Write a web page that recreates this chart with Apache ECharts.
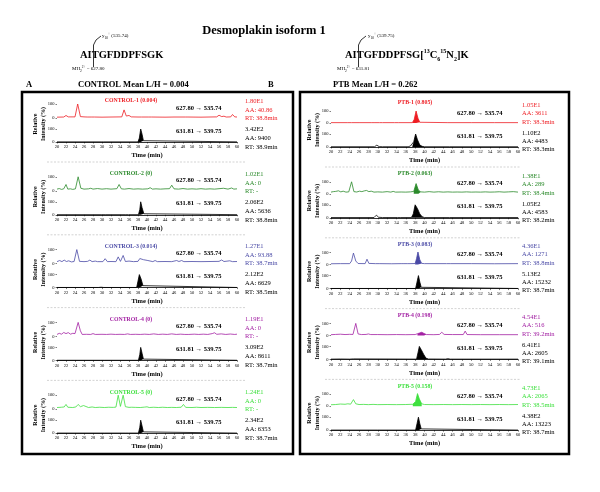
<!DOCTYPE html>
<html><head><meta charset="utf-8">
<script src="https://cdn.jsdelivr.net/npm/echarts@6/dist/echarts.min.js"></script>
<style>html,body{margin:0;padding:0;background:#fff}#c{width:600px;height:492px}</style>
</head><body><div id="c"></div><script>
// ---------------- DATA ----------------
const xTicks = [20, 60, 2];           // time axis: min, max, step (min)
const yTicks = [0, 100];              // relative intensity ticks (%)
const ctrlNames = ['CONTROL-1 (0.004)','CONTROL-2 (0)','CONTROL-3 (0.014)','CONTROL-4 (0)','CONTROL-5 (0)'];
const ptbNames  = ['PTB-1 (0.805)','PTB-2 (0.063)','PTB-3 (0.083)','PTB-4 (0.198)','PTB-5 (0.158)'];
const lightTransition = '627.80 \u2192 535.74';
const heavyTransition = '631.81 \u2192 539.75';
const ctrlLightInfo = [['1.80E1','AA: 40.86','RT: 38.8min'],['1.02E1','AA: 0','RT: -'],['1.27E1','AA: 93.88','RT: 38.7min'],['1.19E1','AA: 0','RT: -'],['1.24E1','AA: 0','RT: -']];
const ctrlHeavyInfo = [['3.42E2','AA: 9400','RT: 38.9min'],['2.06E2','AA: 5636','RT: 38.8min'],['2.12E2','AA: 6629','RT: 38.5min'],['3.09E2','AA: 8611','RT: 38.7min'],['2.34E2','AA: 6353','RT: 38.7min']];
const ptbLightInfo  = [['1.05E1','AA: 3611','RT: 38.3min'],['1.38E1','AA: 289','RT: 38.4min'],['4.36E1','AA: 1271','RT: 38.8min'],['4.54E1','AA: 516','RT: 39.2min'],['4.73E1','AA: 2065','RT: 38.5min']];
const ptbHeavyInfo  = [['1.10E2','AA: 4483','RT: 38.3min'],['1.05E2','AA: 4583','RT: 38.2min'],['5.13E2','AA: 15232','RT: 38.7min'],['6.41E1','AA: 2605','RT: 39.1min'],['4.38E2','AA: 13223','RT: 38.7min']];

// chromatogram traces: [time (min), relative intensity (%)]
const ctrl1Light = [[20,6],[21.5,7],[22,18],[22.5,8],[24,8],[24.6,100],[25.2,10],[26,8],[26.3,14],[26.7,7],[27.6,7],[27.9,16],[28.3,7],[30,6],[32,7],[34.4,8],[34.9,58],[35.4,14],[36,18],[36.5,8],[38,7],[38.4,15],[38.8,7],[40.4,7],[40.7,11],[41,7],[44,6],[46,7],[48.5,7],[48.8,11],[49.1,7],[52,6],[55.5,8],[56,20],[56.6,10],[57.1,13],[57.6,7],[58.6,8],[59,25],[59.5,8],[60,7]];
const ctrl1Heavy = [[20,1],[29.8,1],[30.1,4],[30.4,1],[38,1],[38.3,30],[38.6,100],[38.9,60],[39.2,10],[39.5,1],[60,1]];
const ctrl2Light = [[20,12],[20.5,16],[21,10],[21.5,14],[22,45],[22.4,12],[23,14],[23.5,10],[24.1,14],[24.7,100],[25.3,18],[26,12],[27,14],[27.5,18],[28,12],[29,16],[30,12],[31,15],[32,12],[33.3,15],[33.8,45],[34.3,14],[35,12],[36,16],[37,12],[38,14],[39,12],[40.2,14],[40.7,22],[41.2,12],[42,14],[43,12],[44,14],[45,15],[45.5,40],[46,14],[47,12],[48,16],[49,12],[50,14],[51,12],[52,15],[53,12],[54,14],[55,12],[56,15],[57,18],[58,12],[58.8,20],[59.3,12],[60,14]];
const ctrl2Heavy = [[20,1],[29.8,1],[30.2,8],[30.7,1],[35.3,1],[35.6,4],[35.9,1],[38.1,1],[38.4,40],[38.6,100],[38.9,55],[39.3,8],[39.6,1],[60,1]];
const ctrl3Light = [[20,14],[20.6,22],[21.1,14],[21.6,25],[22.1,15],[22.6,20],[23.2,12],[23.8,15],[24.4,100],[25,16],[26,14],[26.8,16],[27.3,25],[27.8,14],[28.5,18],[29,14],[30.2,14],[30.7,35],[31.2,14],[32,15],[33.1,14],[33.6,48],[34.1,16],[34.7,58],[35.2,15],[36,18],[37,14],[38,16],[38.4,36],[38.8,22],[39.2,28],[39.6,20],[40.2,22],[40.6,14],[41.3,14],[41.8,22],[42.3,14],[44,15],[45.5,14],[46.6,22],[47.1,15],[47.7,22],[48.2,14],[50,15],[52,14],[54,15],[56,16],[56.6,26],[57.1,15],[58.4,20],[59,14],[60,15]];
const ctrl3Heavy = [[20,1],[29.2,1],[29.5,5],[29.8,3],[30.1,5],[30.4,1],[37.7,1],[38,50],[38.3,100],[38.7,65],[39.1,15],[39.5,2],[60,1]];
const ctrl4Light = [[20,14],[20.5,22],[21,16],[21.5,28],[22,20],[22.5,27],[23,16],[23.5,22],[24,20],[24.7,100],[25.2,40],[25.6,14],[26.5,15],[27.5,14],[28,20],[28.5,14],[30,15],[31,14],[32,16],[33,14],[34,15],[35,14],[35.7,18],[36.3,14],[37.5,15],[38.5,14],[39.5,16],[40.5,14],[41.5,18],[42.5,14],[43.5,16],[44.5,14],[45.5,18],[46.5,14],[47.5,16],[48.4,14],[48.8,24],[49.3,14],[50.5,16],[51.5,14],[52.5,16],[53.5,14],[54.5,20],[55,26],[55.5,15],[56.5,18],[57.5,14],[58.5,17],[59.5,14],[60,16]];
const ctrl4Heavy = [[20,1],[29.6,1],[30,6],[30.5,1],[38.1,1],[38.4,45],[38.6,100],[38.9,55],[39.2,10],[39.5,1],[60,1]];
const ctrl5Light = [[20,12],[21,14],[21.6,16],[22,34],[22.4,14],[23.5,12],[24.2,16],[24.7,34],[25.2,18],[25.9,26],[26.3,13],[27,12],[27.8,16],[28.5,12],[29.5,14],[30.5,12],[31.5,14],[32.5,13],[33.1,15],[33.6,100],[34.1,20],[34.7,100],[35.2,18],[36,13],[36.6,14],[37,26],[37.4,13],[38.5,12],[39.5,15],[40,17],[40.5,12],[41.5,14],[42.5,12],[43.5,14],[44.5,12],[45.5,13],[46.5,12],[47.6,14],[48.1,34],[48.6,13],[50,12],[51,14],[52,12],[53.5,13],[55,12],[56.5,13],[58,12],[59,13],[60,12]];
const ctrl5Heavy = [[20,1],[29.6,1],[30,8],[30.5,1],[35.3,1],[35.6,3],[35.9,1],[38.1,1],[38.4,45],[38.6,100],[38.9,55],[39.2,10],[39.5,1],[60,1]];

const ptb1Light = [[20,3],[23.6,3],[24,15],[24.4,3],[26,3],[28.6,3],[29,6],[29.4,3],[30.4,3],[30.7,8],[31,3],[33.6,3],[34,13],[34.4,3],[37.4,3],[37.8,30],[38.2,100],[38.6,40],[39,6],[39.4,3],[45,3],[50,3],[55,3],[60,3]];
const ptb1Heavy = [[20,2],[29.3,2],[29.8,14],[30.3,3],[31,2],[36.5,2],[37,8],[37.4,5],[37.7,40],[38.1,100],[38.5,55],[39,15],[39.5,5],[40,2],[44.6,2],[45,4],[45.4,2],[60,2]];
const ptb2Light = [[20,14],[20.5,18],[21,20],[21.6,25],[22.1,16],[22.6,22],[23.2,14],[23.8,16],[24.4,100],[24.9,18],[25.5,15],[26.1,22],[26.6,18],[27.1,24],[27.6,28],[28.1,18],[28.6,22],[29.2,14],[30,16],[31,14],[32,18],[32.8,14],[33.3,20],[33.8,14],[35,15],[36,14],[37,16],[37.7,20],[38.2,85],[38.7,30],[39.2,16],[40,14],[41,18],[42,14],[43,17],[44,14],[45,16],[46,14],[47,15],[48,14],[49,16],[50,14],[51,15],[52,14],[53,16],[54,14],[55,15],[56,17],[57,14],[58,16],[59,18],[60,14]];
const ptb2Heavy = [[20,2],[29.2,2],[29.7,20],[30.2,4],[31,2],[34.2,2],[34.5,6],[34.8,2],[37.2,2],[37.6,30],[38,100],[38.5,70],[39,30],[39.5,8],[40,2],[44.6,2],[45,4],[45.4,2],[60,2]];
const ptb3Light = [[20,7],[22,8],[24,8],[24.4,30],[24.8,96],[25.3,30],[25.8,9],[27.3,8],[27.7,45],[28.1,10],[29.5,8],[29.9,12],[30.3,8],[33,7],[35,8],[35.3,12],[35.6,8],[36.3,8],[36.6,14],[36.9,8],[38,9],[38.3,50],[38.6,105],[39,40],[39.4,10],[40,8],[44.7,8],[45.1,12],[45.5,8],[50,8],[55,7],[60,8]];
const ptb3Heavy = [[20,1],[30,1],[36,1],[38.1,1],[38.4,50],[38.7,100],[39,50],[39.3,10],[39.7,1],[60,1]];
const ptb4Light = [[20,6],[21,8],[22,10],[23,7],[24,9],[24.7,8],[25.3,100],[25.8,12],[26.5,7],[27.5,8],[28,12],[28.5,7],[30,7],[32,6],[34,7],[36,6],[38,7],[38.5,14],[38.9,24],[39.4,26],[39.9,16],[40.4,7],[42,6],[43.2,8],[43.7,26],[44.2,8],[46,7],[48.3,7],[48.7,36],[49.1,7],[52,6],[56,6],[60,6]];
const ptb4Heavy = [[20,2],[22,3],[24,2],[24.8,4],[25.2,2],[38.3,2],[38.6,50],[38.9,100],[39.3,75],[39.8,40],[40.3,10],[40.8,3],[44.5,2],[45,6],[45.5,2],[60,2]];
const ptb5Light = [[20,12],[21,14],[22,18],[23,16],[23.6,20],[24.2,17],[24.8,55],[25.3,20],[26,14],[27,15],[28,13],[29,15],[30,13],[32,14],[34,13],[36,14],[37.5,16],[38.1,40],[38.5,105],[38.9,60],[39.4,20],[40,14],[42,13],[44,14],[46,13],[48,14],[50,13],[52,14],[54,13],[56,14],[58,13],[60,14]];
const ptb5Heavy = [[20,1],[30,1],[38.1,1],[38.4,50],[38.7,100],[39,50],[39.3,10],[39.6,1],[60,1]];

// integrated (shaded) peak windows, minutes
const ctrlLightWin = [null, null, null, null, null];
const ctrlHeavyWin = [[38,39.5],[38.1,39.6],[37.7,39.5],[38.1,39.5],[38.1,39.5]];
const ptbLightWin  = [[37.4,39.4],[37.7,39.2],[38,39.4],[38.5,40.4],[37.5,39.4]];
const ptbHeavyWin  = [[37.4,40],[37.2,40],[38.1,39.7],[38.3,40.8],[38.1,39.6]];

// ---------------- BUILD ----------------
const FONT = '"Liberation Serif","Times New Roman",serif';
const colors = ['#ee1d23','#2b8a2b','#4a4aa6','#a321a3','#3fe03f'];
const ctrlLight = [ctrl1Light,ctrl2Light,ctrl3Light,ctrl4Light,ctrl5Light];
const ctrlHeavy = [ctrl1Heavy,ctrl2Heavy,ctrl3Heavy,ctrl4Heavy,ctrl5Heavy];
const ptbLight = [ptb1Light,ptb2Light,ptb3Light,ptb4Light,ptb5Light];
const ptbHeavy = [ptb1Heavy,ptb2Heavy,ptb3Heavy,ptb4Heavy,ptb5Heavy];

const sides = [
  {light:ctrlLight, heavy:ctrlHeavy, lw:ctrlLightWin, hw:ctrlHeavyWin, names:ctrlNames, li:ctrlLightInfo, hi:ctrlHeavyInfo,
   x0:57, w:180, lt:104, lh:14, ht:129, hh:13, pitch:72.8, titleX:131, titleY:101, trX:176, tr1Y:108, tr2Y:131,
   infoX:245, infoL:[101,110,118], infoH:[129,138,147], ylabX:39, ylabY:124, sepY:162, sepX:[47,245]},
  {light:ptbLight, heavy:ptbHeavy, lw:ptbLightWin, hw:ptbHeavyWin, names:ptbNames, li:ptbLightInfo, hi:ptbHeavyInfo,
   x0:331, w:187, lt:111, lh:12, ht:134, hh:13, pitch:70.8, titleX:415, titleY:103, trX:457, tr1Y:113, tr2Y:136,
   infoX:522, infoL:[105,113,122], infoH:[133,141,149], ylabX:313, ylabY:130, sepY:167, sepX:[325,520]}
];

const grids=[], xAxes=[], yAxes=[], series=[], graphics=[];
function addGrid(left, top, width, height, isHeavy) {
  const g = grids.length;
  grids.push({left, top, width, height});
  xAxes.push({type:'value', gridIndex:g, min:xTicks[0], max:xTicks[1], interval:xTicks[2],
    axisLine:{show:isHeavy, lineStyle:{color:'#000', width:0.8}},
    axisTick:{show:isHeavy, length:1.5, lineStyle:{color:'#000', width:0.5}},
    axisLabel:{show:isHeavy, fontSize:4.5, margin:2.5, color:'#000', fontFamily:FONT},
    splitLine:{show:false},
    name:isHeavy?'Time (min)':'', nameLocation:'middle', nameGap:10,
    nameTextStyle:{fontSize:6.5, fontWeight:'bold', color:'#000', fontFamily:FONT}});
  yAxes.push({type:'value', gridIndex:g, min:yTicks[0], max:yTicks[1], interval:yTicks[1]-yTicks[0],
    axisLine:{show:false}, axisTick:{show:true, length:1.5, lineStyle:{color:'#000', width:0.5}},
    axisLabel:{fontSize:4.5, margin:2.5, color:'#000', fontFamily:FONT}, splitLine:{show:false}});
  return g;
}
function addTrace(g, data, color, win) {
  series.push({type:'line', xAxisIndex:g, yAxisIndex:g, data, symbol:'none', clip:false, silent:true,
    lineStyle:{color, width:0.8}, z:3});
  if (win) series.push({type:'line', xAxisIndex:g, yAxisIndex:g, symbol:'none', clip:false, silent:true,
    data:data.filter(p => p[0] >= win[0] && p[0] <= win[1]),
    lineStyle:{width:0}, areaStyle:{color, opacity:1}, z:2});
}
function txt(x, y, text, size, color, opts) {
  graphics.push(Object.assign({type:'text', x, y, silent:true, style:Object.assign({text, fill:color,
    font:(opts&&opts.bold?'bold ':'') + size + 'px ' + FONT, textAlign:'left', textVerticalAlign:'middle'}, (opts&&opts.style)||{})},
    (opts&&opts.el)||{}));
}

sides.forEach((s) => {
  for (let i = 0; i < 5; i++) {
    const dy = s.pitch * i;
    const gl = addGrid(s.x0, s.lt + dy, s.w, s.lh, false);
    addTrace(gl, s.light[i], colors[i], s.lw[i]);
    const gh = addGrid(s.x0, s.ht + dy, s.w, s.hh, true);
    addTrace(gh, s.heavy[i], '#000', s.hw[i]);
    txt(s.titleX, s.titleY + dy, s.names[i], 5.8, colors[i], {bold:true, style:{textAlign:'center'}});
    txt(s.trX, s.tr1Y + dy, lightTransition, 6.5, '#000', {bold:true});
    txt(s.trX, s.tr2Y + dy, heavyTransition, 6.5, '#000', {bold:true});
    s.li[i].forEach((t, k) => txt(s.infoX, s.infoL[k] + dy, t, 6.5, colors[i]));
    s.hi[i].forEach((t, k) => txt(s.infoX, s.infoH[k] + dy, t, 6.5, '#000'));
    txt(s.ylabX, s.ylabY + dy, 'Relative\nIntensity (%)', 6, '#000',
      {bold:true, style:{textAlign:'center', lineHeight:8}, el:{rotation:Math.PI/2}});
    if (i < 4) graphics.push({type:'line', silent:true, shape:{x1:s.sepX[0], y1:s.sepY+dy, x2:s.sepX[1], y2:s.sepY+dy},
      style:{stroke:'#c8c8c8', lineWidth:0.8, lineDash:[2,1.5]}});
  }
});

// boxes
graphics.push({type:'rect', silent:true, shape:{x:22, y:92, width:271, height:362}, style:{fill:'none', stroke:'#000', lineWidth:2.5}});
graphics.push({type:'rect', silent:true, shape:{x:300, y:92, width:269, height:362}, style:{fill:'none', stroke:'#000', lineWidth:2.5}});

// headers
txt(264, 31, 'Desmoplakin isoform 1', 12.5, '#000', {bold:true, style:{textAlign:'center'}});
txt(26, 85, 'A', 8.5, '#000', {bold:true});
txt(78, 85, 'CONTROL Mean L/H = 0.004', 8.5, '#000', {bold:true});
txt(268, 85, 'B', 8.5, '#000', {bold:true});
txt(333, 85, 'PTB Mean L/H = 0.262', 8.5, '#000', {bold:true});

const pepRich = {
  m:{font:'bold 10.5px '+FONT, fill:'#000', lineHeight:14, verticalAlign:'middle'},
  sup:{font:'bold 6px '+FONT, fill:'#000', lineHeight:7, verticalAlign:'top'},
  sub:{font:'bold 6px '+FONT, fill:'#000', lineHeight:7, verticalAlign:'bottom'},
  n:{font:'5px '+FONT, fill:'#000', lineHeight:8, verticalAlign:'middle'},
  s1:{font:'3.5px '+FONT, fill:'#000', lineHeight:4, verticalAlign:'top'},
  s2:{font:'3.5px '+FONT, fill:'#000', lineHeight:4, verticalAlign:'bottom'}
};
function rich(x, y, text) {
  graphics.push({type:'text', x, y, silent:true, style:{text, rich:pepRich, textAlign:'left', textVerticalAlign:'middle'}});
}
rich(80, 55, '{m|AITGFDDPFSGK}');
rich(102, 36, '{n|y}{s2|10}{s1|+}{n| (535.74)}');
rich(72, 69, '{n|MH}{s2|2}{s1|2+}{n| = 627.80}');
rich(345, 55, '{m|AITGFDDPFSG[}{sup|13}{m|C}{sub|6}{sup|15}{m|N}{sub|2}{m|]K}');
rich(368, 36, '{n|y}{s2|10}{s1|+}{n| (539.75)}');
rich(337, 69, '{n|MH}{s2|2}{s1|2+}{n| = 631.81}');
// cleavage marks
graphics.push({type:'polyline', silent:true, shape:{points:[[93.5,67],[93.5,45],[96,40],[101,36]]}, style:{stroke:'#000', lineWidth:0.8, fill:'none'}});
graphics.push({type:'polyline', silent:true, shape:{points:[[358.5,67],[358.5,45],[361,40],[366,36]]}, style:{stroke:'#000', lineWidth:0.8, fill:'none'}});

const chart = echarts.init(document.getElementById('c'), null, {renderer:'canvas'});
chart.setOption({animation:false, backgroundColor:'#fff', grid:grids, xAxis:xAxes, yAxis:yAxes, series, graphic:graphics});
</script></body></html>
